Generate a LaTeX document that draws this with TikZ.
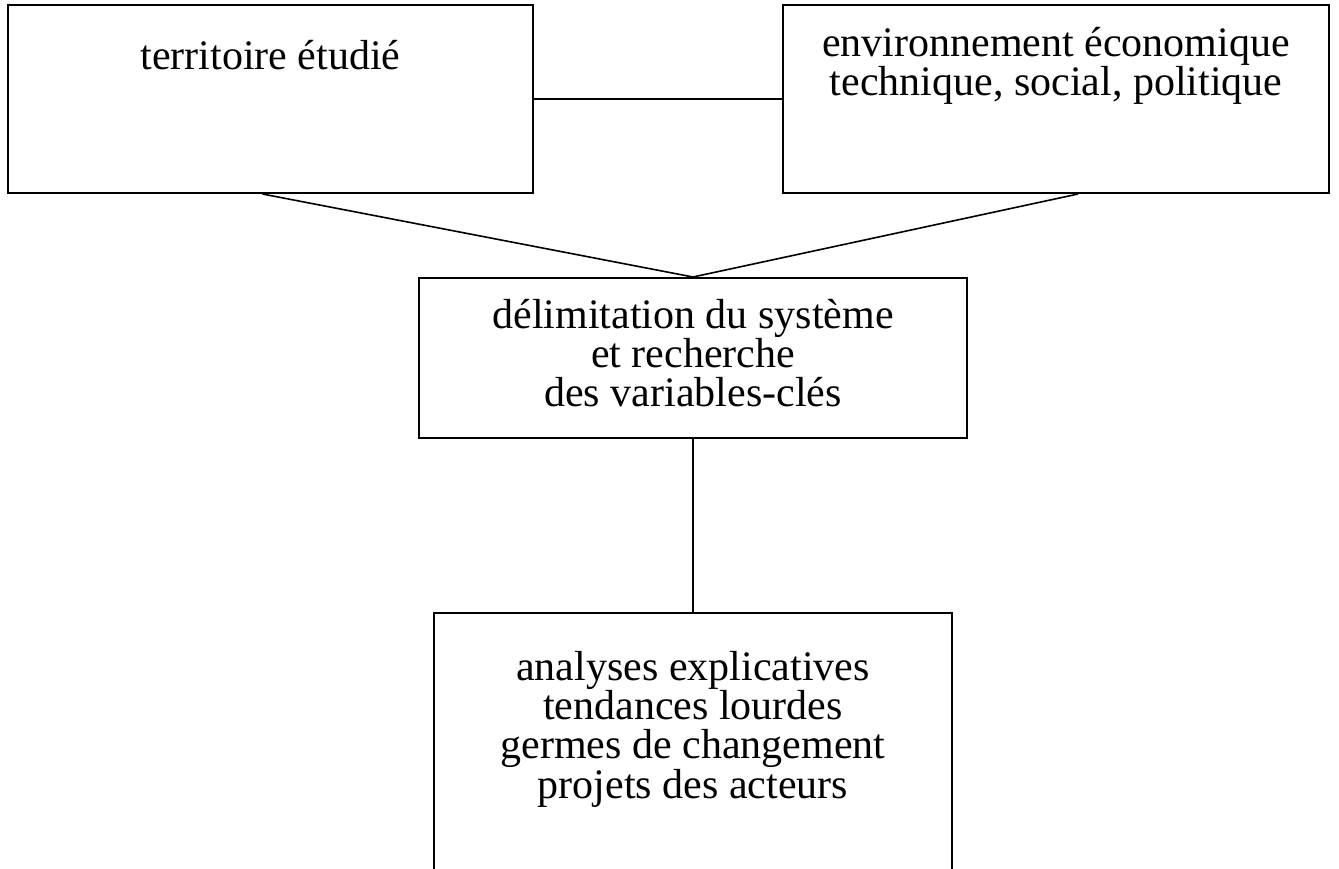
\documentclass[tikz,border=0pt]{standalone}
\usepackage{fontspec}
\setmainfont{Liberation Serif}
\usetikzlibrary{positioning,calc}
\newcommand{\px}{0.75pt}
\tikzstyle{box}=[draw, line width=1.5pt, inner sep=0pt]
\tikzstyle{boxtext}=[align=center, inner sep=0pt, font=\fontsize{31.5}{29.5}\selectfont]

\begin{document}
\begin{tikzpicture}[x=0.75pt,y=-0.75pt,line width=1.2pt]
\useasboundingbox (0,0) rectangle (1339,868);
% the four boxes
\node[box, minimum width=525*\px, minimum height=188*\px] (terr) at (270.5,99) {};
\node[box, minimum width=546*\px, minimum height=188*\px] (env) at (1056,99) {};
\node[box, minimum width=548*\px, minimum height=160*\px] (delim) at (693,358) {};
\node[box, minimum width=518*\px, minimum height=277*\px] (analyses) at (693,751.5) {};
% texts
\node[boxtext] (terr-txt) at (270.5,55) {territoire étudié};
\node[boxtext] (env-txt) at (1056,66) {environnement économique\\technique, social, politique};
\node[boxtext] (delim-txt) at (693,353) {délimitation du système\\et recherche\\des variables-clés};
\node[boxtext] (analyses-txt) at (693,729) {analyses explicatives\\tendances lourdes\\germes de changement\\projets des acteurs};
% links
\draw (terr.east) -- (env.west);
\draw ([xshift=-8*\px]terr.south) -- (delim.north);
\draw ([xshift=22*\px]env.south) -- (delim.north);
\draw (delim.south) -- (analyses.north);
\end{tikzpicture}
\end{document}
